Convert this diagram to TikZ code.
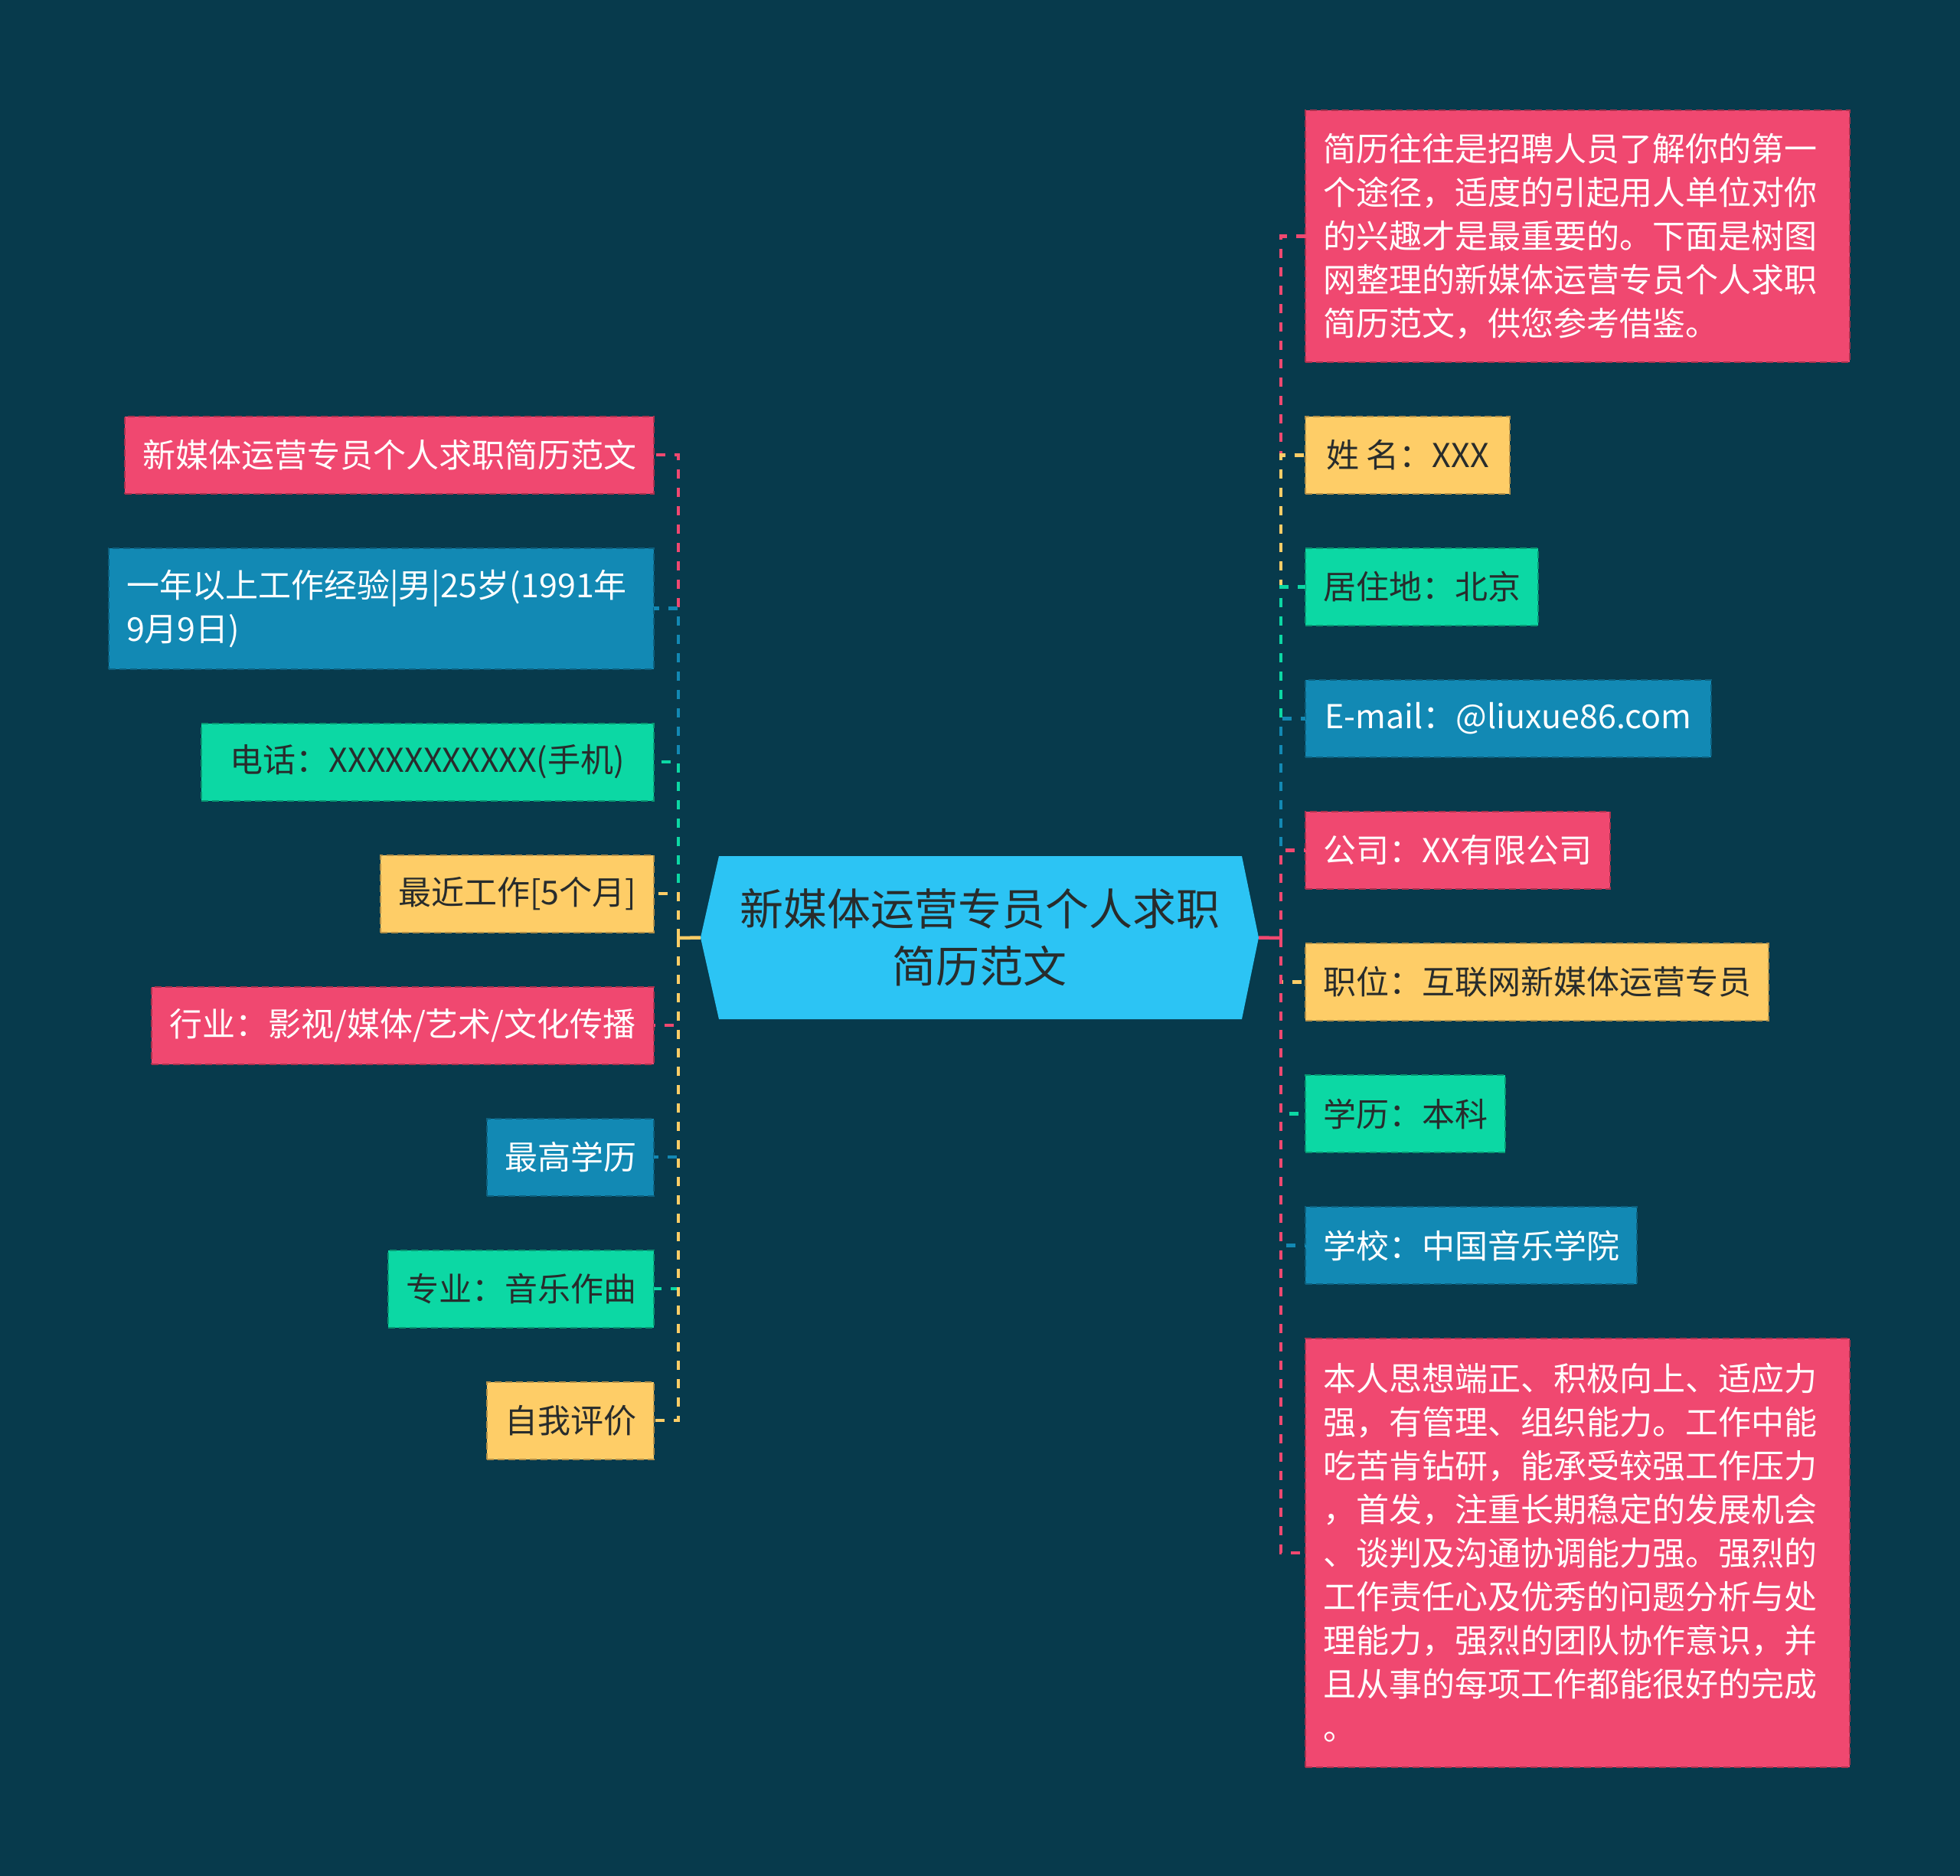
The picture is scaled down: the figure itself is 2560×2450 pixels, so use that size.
\documentclass[tikz,border=0pt]{standalone}
\usepackage{fontspec}
\setmainfont{Noto Sans CJK SC}
\usetikzlibrary{positioning}

\definecolor{bgc}{RGB}{7,58,76}
\definecolor{mpink}{RGB}{240,72,112}
\definecolor{mblue}{RGB}{18,137,180}
\definecolor{mgreen}{RGB}{12,216,164}
\definecolor{myellow}{RGB}{254,205,103}
\definecolor{mcyan}{RGB}{44,196,244}
\definecolor{ink}{RGB}{40,44,44}

\begin{document}
\begin{tikzpicture}[x=1pt,y=1pt,node distance=71pt and 0pt,
    box/.style={rectangle,draw=#1!70!black,fill=#1,line width=2pt,dash pattern=on 9pt off 5pt,inner xsep=23pt,inner ysep=0pt,outer sep=0pt,minimum height=101pt,font=\fontsize{43}{57}\selectfont},
    pinkbox/.style={box=mpink,text=white},
    bluebox/.style={box=mblue,text=white},
    greenbox/.style={box=mgreen,text=ink},
    yellowbox/.style={box=myellow,text=ink},
    hub/.style={rectangle,fill=bgc,outer sep=0pt,minimum width=729pt,minimum height=213pt,text=ink,align=center,font=\fontsize{57}{75}\selectfont,
      path picture={\fill[mcyan] ([xshift=24pt]path picture bounding box.north west) -- ([xshift=-22pt]path picture bounding box.north east)
        -- (path picture bounding box.east) -- ([xshift=-22pt]path picture bounding box.south east)
        -- ([xshift=24pt]path picture bounding box.south west) -- (path picture bounding box.west) -- cycle;}},
    link/.style={line width=4.5pt,dash pattern=on 12pt off 12pt},
    stub/.style={line width=4.5pt}]
    \fill[bgc] (0,0) rectangle (2560,-2450);
    \node[hub] (root) at (1279.5,-1224.5) {新媒体运营专员个人求职\\简历范文};
    % left side
    \node[pinkbox,minimum width=687pt,anchor=east] (l1) at (854,-594) {新媒体运营专员个人求职简历范文};
    \node[bluebox,text width=666pt,minimum height=158pt,align=left,below left=of l1.south east] (l2) {一年以上工作经验|男|25岁(1991年\\9月9日)};
    \node[greenbox,minimum width=591pt,below left=of l2.south east] (l3) {电话：XXXXXXXXXXX(手机)};
    \node[yellowbox,minimum width=354pt,below left=of l3.south east] (l4) {最近工作[5个月]};
    \node[pinkbox,minimum width=656pt,below left=of l4.south east] (l5) {行业：影视/媒体/艺术/文化传播};
    \node[bluebox,minimum width=216pt,below left=of l5.south east] (l6) {最高学历};
    \node[greenbox,minimum width=343pt,below left=of l6.south east] (l7) {专业：音乐作曲};
    \node[yellowbox,minimum width=216pt,below left=of l7.south east] (l8) {自我评价};
    % right side
    \node[pinkbox,text width=665pt,minimum height=329pt,align=left,anchor=north west] (r1) at (1705,-144) {简历往往是招聘人员了解你的第一\\个途径，适度的引起用人单位对你\\的兴趣才是最重要的。下面是树图\\网整理的新媒体运营专员个人求职\\简历范文，供您参考借鉴。};
    \node[yellowbox,minimum width=267pt,below right=of r1.south west] (r2) {姓 名：XXX};
    \node[greenbox,minimum width=300pt,below right=of r2.south west] (r3) {居住地：北京};
    \node[bluebox,minimum width=530pt,below right=of r3.south west] (r4) {E-mail：@liuxue86.com};
    \node[pinkbox,minimum width=398pt,below right=of r4.south west] (r5) {公司：XX有限公司};
    \node[yellowbox,minimum width=602pt,below right=of r5.south west] (r6) {职位：互联网新媒体运营专员};
    \node[greenbox,minimum width=257pt,below right=of r6.south west] (r7) {学历：本科};
    \node[bluebox,minimum width=429pt,below right=of r7.south west] (r8) {学校：中国音乐学院};
    \node[pinkbox,text width=665pt,minimum height=560pt,align=left,below right=of r8.south west] (r9) {本人思想端正、积极向上、适应力\\强，有管理、组织能力。工作中能\\吃苦肯钻研，能承受较强工作压力\\，首发，注重长期稳定的发展机会\\、谈判及沟通协调能力强。强烈的\\工作责任心及优秀的问题分析与处\\理能力，强烈的团队协作意识，并\\且从事的每项工作都能很好的完成\\。};
    % connectors
    \coordinate (ljoin) at (886,-1225);
    \coordinate (rjoin) at (1673,-1225);
    \draw[link,mpink] (ljoin) |- (l1.east);
    \draw[link,mblue] (ljoin) |- (l2.east);
    \draw[link,mgreen] (ljoin) |- (l3.east);
    \draw[link,myellow] (ljoin) |- (l4.east);
    \draw[link,mpink] (ljoin) |- (l5.east);
    \draw[link,mblue] (ljoin) |- (l6.east);
    \draw[link,mgreen] (ljoin) |- (l7.east);
    \draw[link,myellow] (ljoin) |- (l8.east);
    \draw[stub,myellow] (root.west) -- (ljoin);
    \draw[link,mpink] (rjoin) |- (r1.west);
    \draw[link,myellow] (rjoin) |- (r2.west);
    \draw[link,mgreen] (rjoin) |- (r3.west);
    \draw[link,mblue] (rjoin) |- (r4.west);
    \draw[link,mpink] (rjoin) |- (r5.west);
    \draw[link,myellow] (rjoin) |- (r6.west);
    \draw[link,mgreen] (rjoin) |- (r7.west);
    \draw[link,mblue] (rjoin) |- (r8.west);
    \draw[link,mpink] (rjoin) |- (r9.west);
    \draw[stub,mpink] (root.east) -- (rjoin);
\end{tikzpicture}
\end{document}
